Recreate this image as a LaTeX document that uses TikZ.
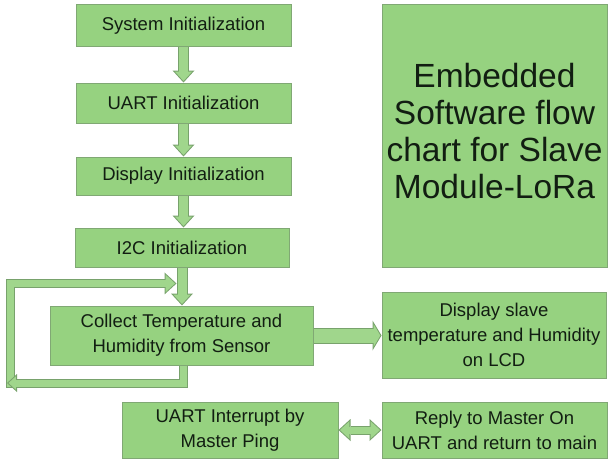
\documentclass[tikz,border=0pt]{standalone}
\usepackage{fontspec}
\setmainfont{Liberation Sans}
\usetikzlibrary{arrows.meta,calc}

\definecolor{boxfill}{RGB}{150,210,128}
\definecolor{boxedge}{RGB}{128,168,116}
\definecolor{arrowfill}{RGB}{160,214,140}
\definecolor{arrowedge}{RGB}{120,162,108}
\definecolor{inktext}{RGB}{18,30,18}

\tikzset{
  box/.style={draw=boxedge, fill=boxfill, line width=1pt, inner sep=0pt,
    align=center, text=inktext, font=\fontsize{18.5}{25}\selectfont},
  shell/.style={draw=arrowedge, line join=miter},
  core/.style={draw=arrowfill, line join=miter},
  % vertical flow arrows
  vshell/.style={shell, line width=11pt,
    -{Triangle[length=12pt,width=22pt,line width=0pt]}},
  vcore/.style={core, line width=9pt, shorten >=1.5pt,
    -{Triangle[length=9.4pt,width=17.2pt,line width=0pt]}},
  % wide arrow towards the LCD box
  hshell/.style={shell, line width=16pt,
    -{Triangle[length=9pt,width=30pt,line width=0pt]}},
  hcore/.style={core, line width=14pt, shorten >=1.17pt,
    -{Triangle[length=6.8pt,width=22.8pt,line width=0pt]}},
  % thin loop arrows
  lshell/.style={shell, line width=9pt,
    -{Triangle[length=12pt,width=22pt,line width=0pt]}},
  lcore/.style={core, line width=7pt, shorten >=1.48pt,
    -{Triangle[length=9.5pt,width=17.5pt,line width=0pt]}},
  tshell/.style={shell, line width=9pt,
    -{Triangle[length=10pt,width=18pt,line width=0pt]}},
  tcore/.style={core, line width=7pt, shorten >=1.49pt,
    -{Triangle[length=7.5pt,width=13.5pt,line width=0pt]}},
  % two-headed arrow
  dshell/.style={shell, line width=9pt,
    {Triangle[length=12pt,width=22pt,line width=0pt]}-{Triangle[length=12pt,width=22pt,line width=0pt]}},
  dcore/.style={core, line width=7pt, shorten >=1.48pt, shorten <=1.48pt,
    {Triangle[length=9.5pt,width=17.5pt,line width=0pt]}-{Triangle[length=9.5pt,width=17.5pt,line width=0pt]}},
}

\begin{document}
\begin{tikzpicture}[x=1pt, y=-1pt]
\useasboundingbox (0,0) rectangle (609,460);

% initialisation chain
\node[box, minimum width=215pt, minimum height=42pt] (sys)  at (183.5,26)  {System Initialization};
\node[box, minimum width=215pt, minimum height=40pt] (uart) at (183.5,103) {UART Initialization};
\node[box, minimum width=215pt, minimum height=38pt] (disp) at (183.5,176) {Display Initialization};
\node[box, minimum width=214pt, minimum height=39pt] (i2c)  at (182,247.5) {I2C Initialization};

% main loop
\node[box, minimum width=263pt, minimum height=59pt] (collect) at (181.5,335.5)
  {Collect Temperature and\\Humidity from Sensor};
\node[box, minimum width=224pt, minimum height=86pt] (lcd) at (494,335)
  {Display slave\\temperature and Humidity\\on LCD};

% title panel
\node[box, minimum width=225pt, minimum height=262pt] (title) at (494.5,136) {};
\node[align=center, text=inktext, inner sep=0pt, font=\fontsize{33.5}{37}\selectfont]
  (titletext) at ([yshift=5pt]title.center)
  {Embedded\\Software flow\\chart for Slave\\Module-LoRa};

% interrupt handling
\node[box, minimum width=216pt, minimum height=56pt] (irq)   at (230,430)   {UART Interrupt by\\Master Ping};
\node[box, minimum width=225pt, minimum height=56pt] (reply) at (494.5,430) {Reply to Master On\\UART and return to main};

% vertical arrows
\foreach \a/\b in {sys/uart, uart/disp, disp/i2c, i2c/collect} {
  \draw[vshell] (\a.south) -- (\a.south |- \b.north);
  \draw[vcore]  (\a.south) -- (\a.south |- \b.north);
}

% feedback loop
\coordinate (loopcorner) at (10.5,383);
\coordinate (loopleft) at (7,383);
\coordinate (feed) at ($(i2c.south)!0.42!(i2c.south |- collect.north)+(-5.5,0)$);
\draw[lshell] ($(loopcorner)+(0,5)$) |- (feed);
\draw[lcore]  ($(loopcorner)+(0,4)$) |- (feed);
\draw[tshell] ([xshift=1.5pt]collect.south) |- (loopleft);
\draw[tcore]  ([xshift=1.5pt]collect.south) |- (loopleft);

% collect -> LCD
\draw[hshell] (collect.east) -- (collect.east -| lcd.west);
\draw[hcore]  (collect.east) -- (collect.east -| lcd.west);

% interrupt <-> reply
\draw[dshell] (irq.east) -- (reply.west);
\draw[dcore]  (irq.east) -- (reply.west);
\end{tikzpicture}
\end{document}
